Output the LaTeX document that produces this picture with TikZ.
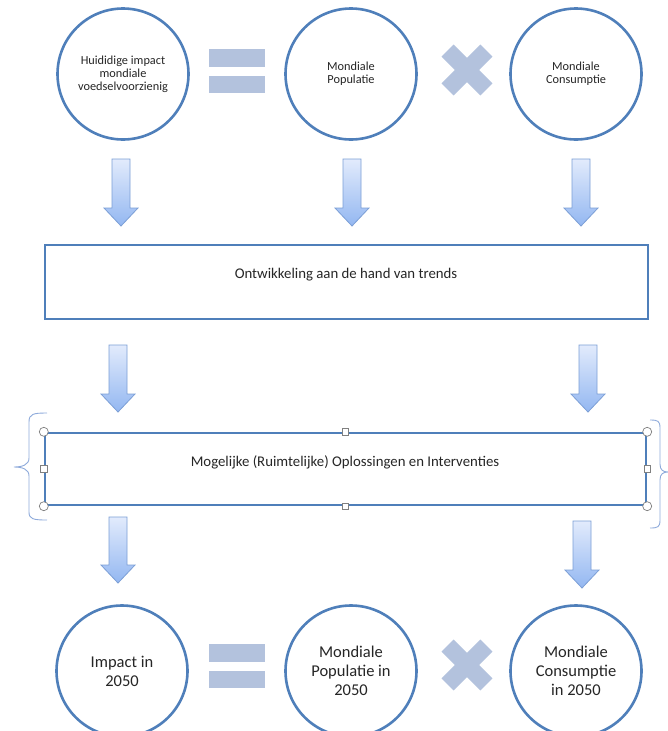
\documentclass[tikz,border=0pt]{standalone}
\usepackage{fontspec}
\setmainfont{Carlito}
\definecolor{cblue}{HTML}{4F7FBA}
\definecolor{opfill}{HTML}{B3C2DD}
\definecolor{arrtop}{HTML}{E2EBFC}
\definecolor{arrbot}{HTML}{93B7F1}
\definecolor{arrline}{HTML}{7C9FD6}
\definecolor{brace}{HTML}{8EAADB}
\definecolor{txt}{HTML}{262626}
\tikzset{
  bigcirc/.style={circle, draw=cblue, line width=2.6pt, minimum size=131pt, inner sep=0pt, align=center, text=txt},
  smalltxt/.style={font=\fontsize{12.3}{13}\selectfont},
  largetxt/.style={font=\fontsize{16.5}{19}\selectfont},
  flowbox/.style={rectangle, draw=cblue, line width=2.4pt, inner sep=0pt},
  boxtxt/.style={text=txt, font=\fontsize{14.8}{16}\selectfont},
  opshape/.style={fill=opfill},
  handlec/.style={circle, draw=gray, fill=white, line width=0.7pt, minimum size=9pt, inner sep=0pt},
  handles/.style={rectangle, draw=gray, fill=white, line width=0.7pt, minimum size=6.5pt, inner sep=0pt},
  bracestyle/.style={draw=brace, line width=0.9pt},
  arrowstyle/.style={draw=arrline, line width=0.8pt, top color=arrtop, bottom color=arrbot, line join=miter}
}
\newcommand{\blockarrow}[3]{%
  \path[arrowstyle] (#1-9,#2) -- (#1+9,#2) -- (#1+9,#3-18) -- (#1+17,#3-18) -- (#1,#3) -- (#1-17,#3-18) -- (#1-9,#3-18) -- cycle;}
\newcommand{\eqsign}[2]{%
  \fill[opshape] (#1,#2) rectangle (#1+56,#2+18);
  \fill[opshape] (#1,#2+27) rectangle (#1+56,#2+44);}
\newcommand{\crosssign}[2]{%
  \fill[opshape, rotate around={45:(#1,#2)}] (#1-27.5,#2-8.5) rectangle (#1+27.5,#2+8.5);
  \fill[opshape, rotate around={-45:(#1,#2)}] (#1-27.5,#2-8.5) rectangle (#1+27.5,#2+8.5);}
\begin{document}
\begin{tikzpicture}[x=1pt, y=-1pt]
\useasboundingbox (0,0) rectangle (667,731);
\fill[white] (0,0) rectangle (667,731);

% top row
\node[bigcirc, smalltxt] (c1) at (123,74) {Huididige impact\\mondiale\\voedselvoorzienig};
\node[bigcirc, smalltxt] (c2) at (351,74) {Mondiale\\Populatie};
\node[bigcirc, smalltxt] (c3) at (576,74) {Mondiale\\Consumptie};
\eqsign{209}{49}
\crosssign{467}{70}

% arrows top
\blockarrow{121}{159}{226}
\blockarrow{352}{159}{226}
\blockarrow{581}{159}{226}

% box 1
\node[flowbox, minimum width=603pt, minimum height=74pt] (b1) at (346.5,282) {};
\node[boxtxt] (t1) at (346,275) {Ontwikkeling aan de hand van trends};

% arrows middle
\blockarrow{118}{345}{412}
\blockarrow{588}{345}{412}

% box 2
\node[flowbox, minimum width=601pt, minimum height=72pt] (b2) at (345.5,469) {};
\node[boxtxt] (t2) at (345,462) {Mogelijke (Ruimtelijke) Oplossingen en Interventies};
\node[handlec] (h1) at (b2.north west) {};
\node[handlec] (h2) at (b2.north east) {};
\node[handlec] (h3) at (b2.south west) {};
\node[handlec] (h4) at (b2.south east) {};
\node[handles] (h5) at (b2.north) {};
\node[handles] (h6) at (b2.south) {};
\node[handles] (h7) at (b2.west) {};
\node[handles] (h8) at (b2.east) {};

% braces
\draw[bracestyle] (47,413) .. controls (33,413) and (29,414) .. (29,422) -- (29,458)
  .. controls (29,465) and (22,467) .. (14,467)
  .. controls (22,467) and (29,469) .. (29,476) -- (29,512)
  .. controls (29,519) and (33,520) .. (47,520);
\draw[bracestyle] (650,420) .. controls (658,420) and (660,421) .. (660,428) -- (660,464)
  .. controls (660,470) and (663,472) .. (668,472)
  .. controls (663,472) and (660,474) .. (660,480) -- (660,520)
  .. controls (660,527) and (658,528) .. (650,528);

% arrows bottom
\blockarrow{118}{517}{583}
\blockarrow{582}{521}{588}

% bottom row
\node[bigcirc, largetxt] (d1) at (122,671) {Impact in\\2050};
\node[bigcirc, largetxt] (d2) at (351,671) {Mondiale\\Populatie in\\2050};
\node[bigcirc, largetxt] (d3) at (576,671) {Mondiale\\Consumptie\\in 2050};
\eqsign{209}{644}
\crosssign{467}{665}
\end{tikzpicture}
\end{document}
